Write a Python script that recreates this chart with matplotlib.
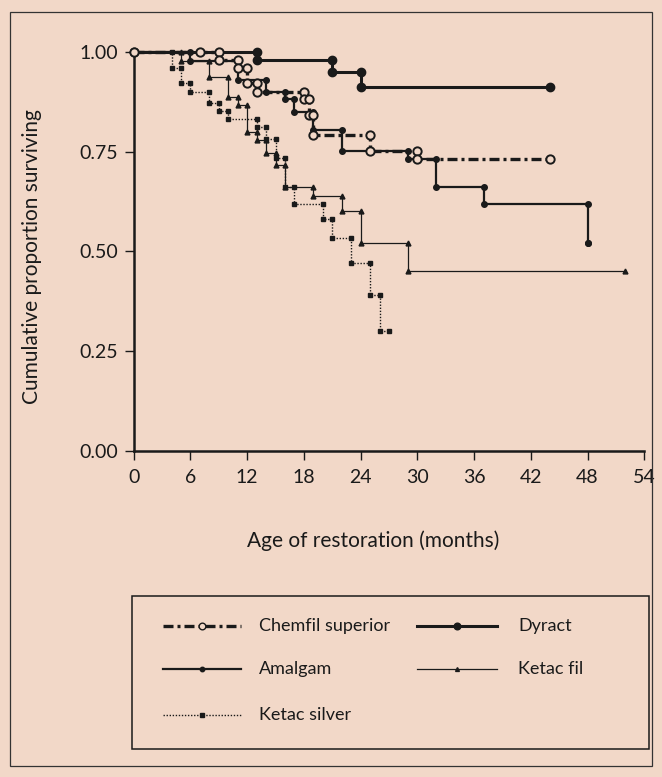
import matplotlib
matplotlib.use('Agg')
import matplotlib.pyplot as plt
import numpy as np
from matplotlib.patches import Rectangle

plt.rcParams['font.family'] = ['Lato', 'DejaVu Sans']

bg = '#f2d8c8'
ink = '#1a1a1a'

# survival data (months, proportion surviving)
dyract_t = [13, 21, 24]
dyract_s = [0.980, 0.951, 0.911]
dyract_end = 44

chemfil_t = [9, 11, 12, 13, 18, 18.5, 19, 25, 30]
chemfil_s = [0.980, 0.961, 0.921, 0.900, 0.881, 0.842, 0.792, 0.752, 0.732]
chemfil_end = 44
chemfil_cens = [7]

amalgam_t = [6, 11, 14, 16, 17, 19, 22, 29, 32, 37, 48]
amalgam_s = [0.978, 0.931, 0.900, 0.881, 0.850, 0.804, 0.752, 0.732, 0.661, 0.620, 0.522]
amalgam_end = 48

ketacfil_t = [5, 8, 10, 11, 12, 13, 14, 15, 16, 19, 22, 24, 29]
ketacfil_s = [0.978, 0.938, 0.888, 0.867, 0.800, 0.779, 0.747, 0.717, 0.662, 0.640, 0.600, 0.520, 0.451]
ketacfil_end = 52

ketacsil_t = [4, 5, 6, 8, 9, 10, 13, 14, 15, 16, 17, 20, 21, 23, 25, 26]
ketacsil_s = [0.961, 0.921, 0.900, 0.873, 0.852, 0.831, 0.811, 0.782, 0.733, 0.662,
              0.620, 0.581, 0.533, 0.472, 0.390, 0.300]
ketacsil_end = 27

xticks = [0, 6, 12, 18, 24, 30, 36, 42, 48, 54]
yticks = [0.0, 0.25, 0.5, 0.75, 1.0]


def km_path(times, surv, end):
    x = [0.0]
    y = [1.0]
    prev = 1.0
    for t, s in zip(times, surv):
        x += [t, t]
        y += [prev, s]
        prev = s
    x.append(end)
    y.append(prev)
    return np.array(x), np.array(y)


W, H = 662, 777
fig = plt.figure(figsize=(W / 100, H / 100), dpi=100, facecolor=bg)

ax = fig.add_axes([133.7 / W, 1 - 450.7 / H, 510.6 / W, 398.7 / H])
ax.set_facecolor(bg)

styles = {
    'Ketac silver': dict(color=ink, lw=1.0, ls=(0, (1, 1.2)), marker='s', ms=3, mfc=ink, mec=ink),
    'Ketac fil': dict(color=ink, lw=0.9, ls='-', marker='^', ms=3.5, mfc=ink, mec=ink),
    'Amalgam': dict(color=ink, lw=1.6, ls='-', marker='o', ms=4, mfc=ink, mec=ink),
    'Dyract': dict(color=ink, lw=2.2, ls='-', marker='o', ms=6, mfc=ink, mec=ink),
    'Chemfil superior': dict(color=ink, lw=2.4, ls=(0, (3.0, 1.2, 0.9, 1.2)), marker='o', ms=6,
                             mfc=bg, mec=ink, mew=1.4),
}

series = [
    ('Ketac silver', ketacsil_t, ketacsil_s, ketacsil_end),
    ('Ketac fil', ketacfil_t, ketacfil_s, ketacfil_end),
    ('Amalgam', amalgam_t, amalgam_s, amalgam_end),
    ('Dyract', dyract_t, dyract_s, dyract_end),
    ('Chemfil superior', chemfil_t, chemfil_s, chemfil_end),
]

for z, (name, t, s, end) in enumerate(series):
    x, y = km_path(t, s, end)
    ax.plot(x, y, clip_on=False, zorder=3 + z, **styles[name])

# censored marks on Chemfil's flat stretch
ax.plot(chemfil_cens, [1.0] * len(chemfil_cens), ls='none', marker='o', ms=6,
        mfc=bg, mec=ink, mew=1.4, clip_on=False, zorder=9)

ax.set_xlim(0, 54)
ax.set_ylim(0, 1)
ax.set_xticks(xticks)
ax.set_xticklabels([str(v) for v in xticks])
ax.set_yticks(yticks)
ax.set_yticklabels(['%.2f' % v for v in yticks])
for side in ['top', 'right']:
    ax.spines[side].set_visible(False)
for side in ['left', 'bottom']:
    ax.spines[side].set_linewidth(1.8)
    ax.spines[side].set_color(ink)
ax.tick_params(axis='both', direction='out', length=6.5, width=1, colors=ink, labelsize=14)
ax.tick_params(axis='y', pad=5)
ax.tick_params(axis='x', pad=7)

ax.set_xlabel('Age of restoration (months)', fontsize=15, color=ink, va='center')
ax.xaxis.set_label_coords((373 - 133.7) / 510.6, (450.7 - 541) / 398.7)
ax.set_ylabel('Cumulative proportion surviving', fontsize=15, color=ink, va='center', ha='center')
ax.yaxis.set_label_coords((32 - 133.7) / 510.6, (450.7 - 257) / 398.7)

# overlay in pixel units for the frame and the legend box
ov = fig.add_axes([0, 0, 1, 1], facecolor='none')
ov.set_xlim(0, W)
ov.set_ylim(H, 0)
ov.axis('off')

ov.add_patch(Rectangle((10, 12), 642, 754, fill=False, ec='#333333', lw=0.9))
ov.add_patch(Rectangle((131.7, 596), 517.3, 153, fill=False, ec=ink, lw=1.1))

legend_items = [
    ('Chemfil superior', 163, 241, 259, 626),
    ('Dyract', 417, 497, 518, 626),
    ('Amalgam', 163, 241, 259, 669),
    ('Ketac fil', 417, 497, 518, 669),
    ('Ketac silver', 163, 241, 259, 715),
]
for name, x0, x1, xt, yy in legend_items:
    st = styles[name]
    ov.plot([x0, (x0 + x1) / 2, x1], [yy, yy, yy], color=st['color'], lw=st['lw'],
            ls=st['ls'], marker=st['marker'], ms=st['ms'] * 0.8, mfc=st['mfc'],
            mec=st['mec'], markevery=[1])
    ov.text(xt, yy, name, fontsize=13, color=ink, va='center', ha='left')

fig.savefig('out.png', dpi=100, facecolor=bg)
